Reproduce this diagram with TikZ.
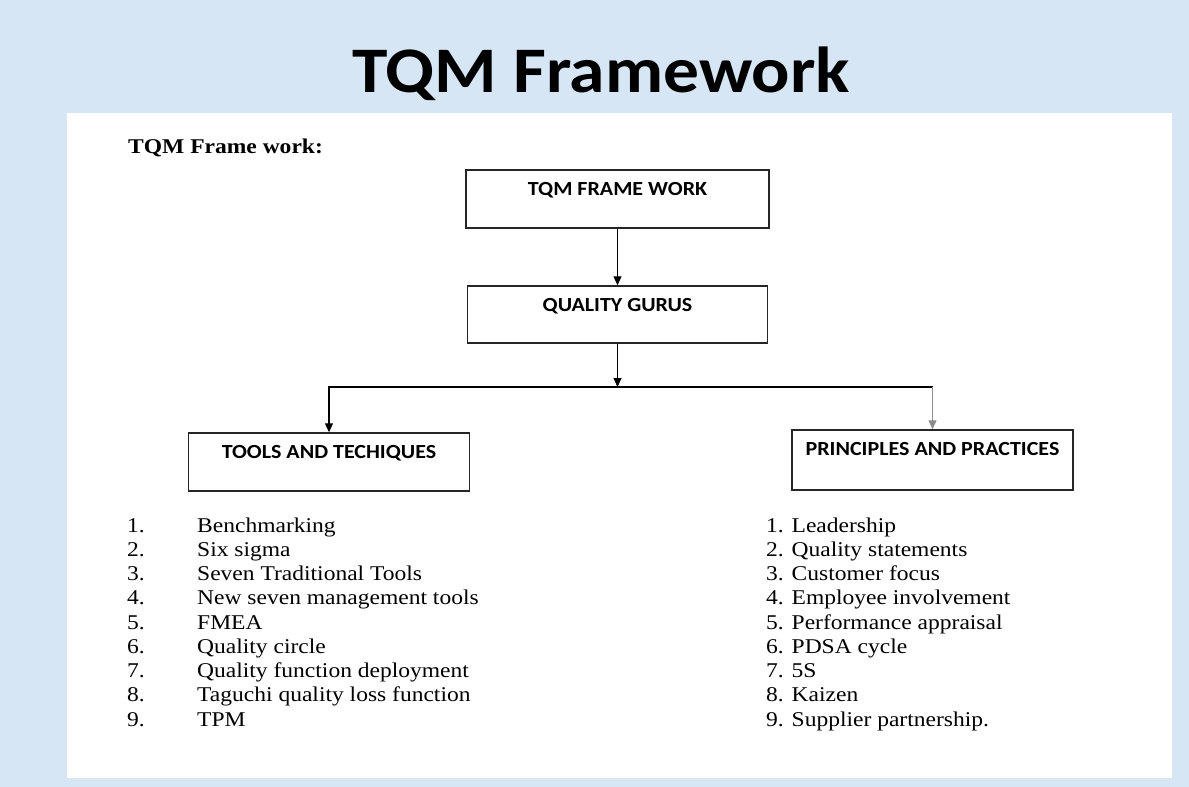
\documentclass[tikz,border=0pt]{standalone}
\usepackage{fontspec}
\setmainfont{Liberation Serif}[FakeStretch=1.12]
\newfontfamily\calibri{Carlito}[FakeStretch=1.1]
\usetikzlibrary{arrows.meta}
\definecolor{slide}{RGB}{214,230,245}
\newcommand{\boxfont}{\calibri\bfseries\fontsize{20}{24}\selectfont}

\begin{document}
\begin{tikzpicture}[x=1pt, y=-1pt,
		box/.style={draw=black!85, line width=1.5pt, inner sep=0pt, text height=25pt, font=\boxfont},
		link/.style={line width=1.2pt, -{Triangle[length=9pt,width=8pt]}}]
		
		\fill[slide] (0,0) rectangle (1189,787);
		\fill[white] (67,113) rectangle (1172,778);
		
		\node (title) at (601,92) [anchor=base] {\calibri\bfseries\fontsize{65}{78}\selectfont TQM Framework};
		\node (head) at (128,153) [anchor=base west, inner sep=0pt] {\fontsize{21}{25}\selectfont\bfseries TQM Frame work:};
		
		\node (v0) at (617.5,199) [box, minimum width=303pt, text depth=33pt] {TQM FRAME WORK};
		\node (v1) at (617.5,314.5) [box, minimum width=300pt, text depth=32pt] {QUALITY GURUS};
		\node (v2) at (329,462) [box, minimum width=281pt, text depth=33pt] {TOOLS AND TECHIQUES};
		\node (v3) at (932.5,460) [box, minimum width=281pt, text depth=35pt] {PRINCIPLES AND PRACTICES};
		
		\coordinate (b0) at (617.5,387);
		\coordinate (b1) at (932.5,387);
		
		\draw[link] (v0) -- (v1);
		\draw[link] (v1) -- (b0);
		\draw[link] (b0) -| (v2.north);
		\draw[line width=1.2pt] (b0) -- (b1);
		\draw[link, draw=black!45] (b1) -- (v3.north);
		
		\node (l0) at (127,515) [anchor=north west, inner sep=0pt] {\fontsize{21}{24.25}\selectfont
			\begin{tabular}{@{}p{70pt}@{}l@{}}
			1. & Benchmarking \\
			2. & Six sigma \\
			3. & Seven Traditional Tools \\
			4. & New seven management tools \\
			5. & FMEA \\
			6. & Quality circle \\
			7. & Quality function deployment \\
			8. & Taguchi quality loss function \\
			9. & TPM
			\end{tabular}};
		\node (l1) at (766,515) [anchor=north west, inner sep=0pt] {\fontsize{21}{24.25}\selectfont
			\begin{tabular}{@{}l@{}}
			1. Leadership \\
			2. Quality statements \\
			3. Customer focus \\
			4. Employee involvement \\
			5. Performance appraisal \\
			6. PDSA cycle \\
			7. 5S \\
			8. Kaizen \\
			9. Supplier partnership.
			\end{tabular}};
	\end{tikzpicture}
\end{document}
